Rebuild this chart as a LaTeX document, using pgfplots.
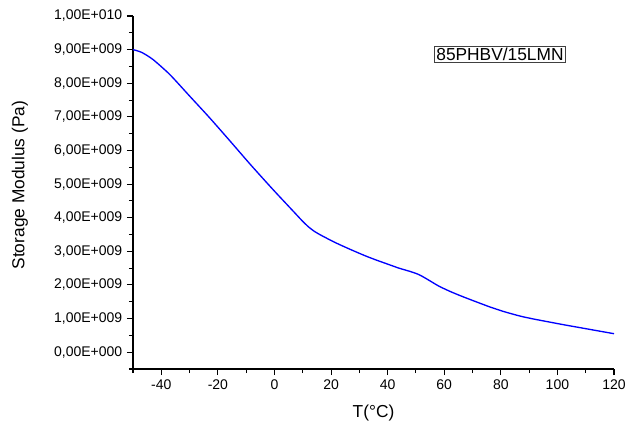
\documentclass[border=0pt]{standalone}
\usepackage{fontspec}
\setmainfont{Liberation Sans}
\usepackage{pgfplots}
\pgfplotsset{compat=1.18}

\begin{document}
\begin{tikzpicture}
\useasboundingbox (-99.75pt,-45pt) rectangle (372.75pt,276.75pt);
\begin{axis}[
  scale only axis,
  width=360.75pt, height=264.75pt,
  axis lines*=left,
  xmin=-50, xmax=120,
  ymin=-0.5e9, ymax=1e10,
  scaled y ticks=false,
  xtick={-40,-20,0,20,40,60,80,100,120},
  xticklabels={-40,-20,0,20,40,60,80,100,120},
  minor xtick={-50,-30,-10,10,30,50,70,90,110},
  ytick={0,1e9,2e9,3e9,4e9,5e9,6e9,7e9,8e9,9e9,1e10},
  yticklabels={{0,00E+000},{1,00E+009},{2,00E+009},{3,00E+009},{4,00E+009},
    {5,00E+009},{6,00E+009},{7,00E+009},{8,00E+009},{9,00E+009},{1,00E+010}},
  minor ytick={-0.5e9,0.5e9,1.5e9,2.5e9,3.5e9,4.5e9,5.5e9,6.5e9,7.5e9,8.5e9,9.5e9},
  tick align=outside,
  major tick length=4.5pt,
  minor tick length=3pt,
  tick style={black, line width=0.8pt},
  axis line style={line width=0.8pt},
  ticklabel style={font=\fontsize{10.5}{12}\selectfont},
  xlabel={T(°C)},
  ylabel={Storage Modulus (Pa)},
  label style={font=\fontsize{13}{15}\selectfont},
  xlabel style={at={(axis description cs:0.5,-0.1246)}, anchor=center},
  ylabel style={at={(axis description cs:-0.2349,0.521)}, anchor=center},
  clip=false,
]
\addplot[blue, line width=1pt, smooth, tension=0.4] table {
x      y
-50    9.00e9
-47    8.92e9
-43    8.71e9
-37    8.26e9
-30    7.62e9
-23    6.98e9
-16    6.31e9
-9     5.63e9
-4     5.16e9
0      4.79e9
3      4.52e9
6      4.25e9
8      4.07e9
10     3.89e9
12     3.73e9
14     3.60e9
16     3.50e9
18     3.41e9
22     3.24e9
27     3.05e9
32     2.87e9
36     2.74e9
40     2.62e9
44     2.50e9
48     2.40e9
51     2.31e9
54     2.17e9
58     1.97e9
62     1.81e9
66     1.67e9
70     1.54e9
76     1.35e9
81     1.21e9
87     1.07e9
92     0.98e9
97     0.90e9
102    0.82e9
108    0.73e9
114    0.64e9
120    0.55e9
};
\node[draw=black!75, line width=0.6pt, inner sep=1.5pt,
  font=\fontsize{13}{15}\selectfont] at (axis cs:79.7,8.86e9) {85PHBV/15LMN};
\end{axis}
\end{tikzpicture}
\end{document}
